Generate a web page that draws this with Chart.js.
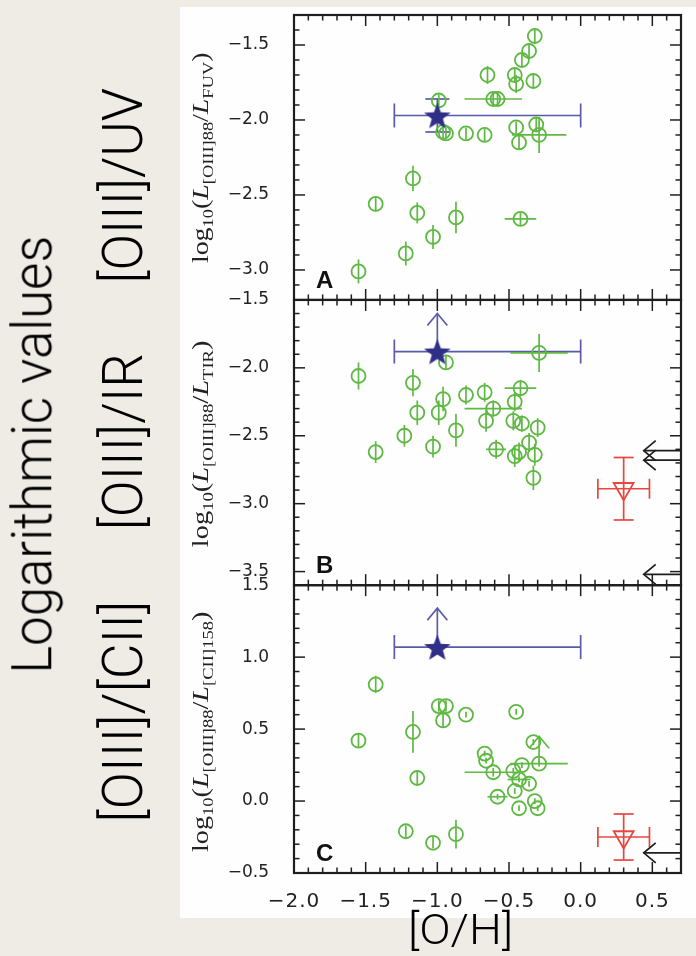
<!DOCTYPE html>
<html>
<head>
<meta charset="utf-8">
<script src="https://cdn.jsdelivr.net/npm/chart.js@4.4.1/dist/chart.umd.min.js"></script>
<style>
  html, body { margin:0; padding:0; }
  body { width:696px; height:956px; overflow:hidden; background:#eeece5; position:relative; }
  #panel { position:absolute; left:180px; top:7px; width:516px; height:911px; background:#fefefe; }
  #chart { position:absolute; left:0; top:0; }
  .rot { position:absolute; white-space:nowrap; transform-origin:50% 50%; color:#000; }
  .big { font-family:'Roboto','Liberation Sans', Arial, sans-serif; font-size:55px; line-height:1.117; font-weight:300; }
  .ytl { font-family:'Liberation Serif','Times New Roman',serif; font-size:23px; line-height:1.2; color:#222; }
  .ytl sub { font-size:0.66em; vertical-align:-0.3em; line-height:0; }
</style>
</head>
<body>
<div id="panel"></div>
<canvas id="chart" width="696" height="956"></canvas>
<div class="rot big" id="lbLog">Logarithmic values</div>
<div class="rot big" id="lbUV">[OIII]/UV</div>
<div class="rot big" id="lbIR">[OIII]/IR</div>
<div class="rot big" id="lbCII">[OIII]/[CII]</div>
<div class="rot big" id="lbOH">[O/H]</div>
<div class="rot ytl" id="tA">log<sub>10</sub>(<i>L</i><sub>[OIII]88</sub>/<i>L</i><sub>FUV</sub>)</div>
<div class="rot ytl" id="tB">log<sub>10</sub>(<i>L</i><sub>[OIII]88</sub>/<i>L</i><sub>TIR</sub>)</div>
<div class="rot ytl" id="tC">log<sub>10</sub>(<i>L</i><sub>[OIII]88</sub>/<i>L</i><sub>[CII]158</sub>)</div>
<script>
// ================= DATA =================
// shared x axis: [O/H]
const ohMin = -2.0, ohMax = 0.7;
const panelLetters = ['A', 'B', 'C'];

// Panel A : log10(L[OIII]88 / L_FUV)
const ohA    = [-0.32,-0.36,-0.41,-0.65,-0.46,-0.45,-0.33,-0.61,-0.58,-0.99,-0.96,-0.94,-0.80,-0.67,-0.45,-0.31,-0.29,-0.43,-1.17,-1.43,-1.14,-0.87,-0.42,-1.03,-1.22,-1.55];
const uvA    = [-1.44,-1.54,-1.60,-1.70,-1.70,-1.76,-1.74,-1.86,-1.86,-1.87,-2.08,-2.09,-2.09,-2.10,-2.05,-2.03,-2.10,-2.15,-2.39,-2.56,-2.62,-2.65,-2.66,-2.78,-2.89,-3.01];
const uvErrA = [0.05,0.05,0.05,0.06,0.05,0.06,0.05,0.04,0.04,0.04,0.05,0.04,0.04,0.04,0.04,0.05,0.12,0.05,0.085,0.05,0.07,0.105,0.04,0.08,0.08,0.08];
const ohErrA = [0,0,0,0,0,0,0,0.20,0,0,0,0,0,0,0,0,0.19,0,0,0,0,0,0.11,0,0,0];
const yRangeA = [-3.2, -1.3];

// Panel B : log10(L[OIII]88 / L_TIR)
const ohB    = [-1.55,-1.43,-1.17,-1.14,-1.23,-1.03,-0.99,-0.96,-0.94,-0.87,-0.80,-0.67,-0.66,-0.61,-0.59,-0.46,-0.47,-0.42,-0.41,-0.46,-0.43,-0.36,-0.30,-0.32,-0.33,-0.29];
const irB    = [-2.06,-2.62,-2.11,-2.33,-2.50,-2.58,-2.33,-2.23,-1.96,-2.46,-2.20,-2.18,-2.39,-2.30,-2.60,-2.25,-2.39,-2.15,-2.41,-2.65,-2.62,-2.55,-2.44,-2.64,-2.81,-1.89];
const irErrB = [0.10,0.08,0.10,0.09,0.08,0.08,0.09,0.09,0.05,0.12,0.07,0.07,0.08,0.06,0.07,0.07,0.07,0.06,0.06,0.08,0.07,0.07,0.07,0.08,0.09,0.14];
const ohErrB = [0,0,0,0,0,0,0,0,0,0,0,0,0,0.20,0.07,0,0,0.11,0,0,0,0,0,0,0,0.20];
const yRangeB = [-3.6, -1.5];

// Panel C : log10(L[OIII]88 / L[CII]158)
const ohC     = [-1.55,-1.43,-1.17,-1.14,-1.22,-1.03,-0.99,-0.94,-0.96,-0.87,-0.80,-0.67,-0.66,-0.61,-0.58,-0.45,-0.47,-0.46,-0.41,-0.43,-0.36,-0.33,-0.32,-0.30,-0.43,-0.29];
const ciiC    = [0.42,0.81,0.48,0.16,-0.21,-0.29,0.66,0.66,0.56,-0.23,0.60,0.33,0.28,0.20,0.03,0.62,0.21,0.07,0.25,0.15,0.12,0.41,0.00,-0.05,-0.05,0.26];
const ciiErrC = [0.05,0.06,0.145,0.05,0.04,0.04,0.04,0.04,0.05,0.10,0.02,0.02,0.02,0.03,0.02,0.02,0.02,0.02,0.02,0.02,0.02,0.02,0.02,0.02,0.02,0.02];
const ohErrC  = [0,0,0,0,0,0,0,0,0,0,0,0,0,0.20,0.07,0,0,0,0,0.08,0,0,0,0,0,0.20];
const ciiLimTipC = [null,null,null,null,null,null,null,null,null,null,null,null,null,null,null,null,null,null,null,null,null,null,null,null,null,0.45];
const yRangeC = [-0.5, 1.5];

// Star (this work): [O/H] range and ratios (B, C are lower limits)
const starOH = -1.0, starOHlo = -1.3, starOHhi = 0.0;
const starA = -1.97, starAerr = 0.11;
const starB = -1.88, starBtip = -1.60;
const starC = 1.07,  starCtip = 1.34;

// Red triangle (upper limits)
const redOH = 0.30, redOHerr = 0.18;
const redB = -2.89, redBerr = 0.23;
const redC = -0.25, redCerr = 0.16;

// Black [O/H]-limit arrows at right edge
const limB = [-2.61, -2.68, -3.52];
const limC = [-0.36];
const limTipOH = 0.44;

// ================= STYLE =================
const GREEN = '#5fb843', NAVY = '#2f2f88', BLUE = '#5a5aaa', RED = '#e8463e', BLACK = '#1e1e1e';
const fmt = v => (Math.abs(v) < 1e-9 ? 0 : v).toFixed(1).replace('-', '\u2212');

function starImage(r, inner, fill) {
  const c = document.createElement('canvas');
  const s = Math.ceil(2 * r + 2);
  c.width = s; c.height = s;
  const g = c.getContext('2d');
  g.fillStyle = fill;
  g.beginPath();
  for (let i = 0; i < 10; i++) {
    const rad = i % 2 ? r * inner : r;
    const a = -Math.PI / 2 + i * Math.PI / 5;
    g.lineTo(s / 2 + rad * Math.cos(a), s / 2 + 1.5 + rad * Math.sin(a));
  }
  g.closePath(); g.fill();
  return c;
}
const starImg = starImage(14, 0.42, NAVY);

const pts = (xs, ys) => xs.map((x, i) => ({ x, y: ys[i] }));

function greenSet(id, xs, ys, yErr, xErr, tips) {
  return { type: 'scatter', yAxisID: id, data: pts(xs, ys), order: 3,
    pointStyle: 'circle', pointRadius: 7, pointHoverRadius: 7, pointBorderWidth: 1.8,
    pointBorderColor: GREEN, pointBackgroundColor: 'rgba(0,0,0,0)',
    errColor: GREEN, yErr, xErr, yTip: tips || null, cap: 0 };
}
function starSet(id, y, yErr, tip) {
  return { type: 'scatter', yAxisID: id, data: [{ x: starOH, y }], order: 0,
    pointStyle: starImg, pointRadius: 14, pointHoverRadius: 14,
    errColor: BLUE, xLo: [starOHlo], xHi: [starOHhi], yErr: [yErr || 0], yTip: [tip === undefined ? null : tip], cap: 12 };
}
function redSet(id, y, yErr) {
  return { type: 'scatter', yAxisID: id, data: [{ x: redOH, y }], order: 1,
    pointStyle: 'triangle', pointRotation: 180, pointRadius: 11.5, pointHoverRadius: 11.5, pointBorderWidth: 1.8,
    pointBorderColor: RED, pointBackgroundColor: 'rgba(0,0,0,0)',
    errColor: RED, xErr: [redOHerr], yErr: [yErr], cap: 10 };
}
function limSet(id, ys) {
  return { type: 'scatter', yAxisID: id, data: ys.map(y => ({ x: limTipOH, y })), order: 2,
    pointRadius: 0, pointHoverRadius: 0, errColor: BLACK, leftArrow: true };
}

const datasets = [
  starSet('yA', starA, starAerr),
  starSet('yB', starB, 0, starBtip),
  starSet('yC', starC, 0, starCtip),
  redSet('yB', redB, redBerr),
  redSet('yC', redC, redCerr),
  limSet('yB', limB),
  limSet('yC', limC),
  greenSet('yA', ohA, uvA, uvErrA, ohErrA),
  greenSet('yB', ohB, irB, irErrB, ohErrB),
  greenSet('yC', ohC, ciiC, ciiErrC, ohErrC, ciiLimTipC)
];

// ================= PLUGINS =================
function seg(ctx, x1, y1, x2, y2) { ctx.beginPath(); ctx.moveTo(x1, y1); ctx.lineTo(x2, y2); ctx.stroke(); }

const errorBars = {
  id: 'errorBars',
  beforeDatasetsDraw(chart) {
    const ctx = chart.ctx, xs = chart.scales.x, area = chart.chartArea;
    chart.data.datasets.forEach(ds => {
      const ys = chart.scales[ds.yAxisID];
      ctx.save();
      ctx.strokeStyle = ds.errColor; ctx.lineWidth = 1.7; ctx.lineCap = 'butt';
      ds.data.forEach((p, i) => {
        const px = xs.getPixelForValue(p.x), py = ys.getPixelForValue(p.y);
        const cap = ds.cap || 0;
        if (ds.leftArrow) {
          seg(ctx, px, py, area.right, py);
          ctx.beginPath(); ctx.moveTo(px + 12, py - 10); ctx.lineTo(px, py); ctx.lineTo(px + 12, py + 10); ctx.stroke();
          return;
        }
        let xl = null, xh = null;
        if (ds.xLo) { xl = ds.xLo[i]; xh = ds.xHi[i]; }
        else if (ds.xErr && ds.xErr[i]) { xl = p.x - ds.xErr[i]; xh = p.x + ds.xErr[i]; }
        if (xl !== null) {
          const a = xs.getPixelForValue(xl), b = xs.getPixelForValue(xh);
          seg(ctx, a, py, b, py);
          if (cap) { seg(ctx, a, py - cap, a, py + cap); seg(ctx, b, py - cap, b, py + cap); }
        }
        if (ds.yErr && ds.yErr[i]) {
          const a = ys.getPixelForValue(p.y - ds.yErr[i]), b = ys.getPixelForValue(p.y + ds.yErr[i]);
          seg(ctx, px, a, px, b);
          if (cap) { seg(ctx, px - cap, a, px + cap, a); seg(ctx, px - cap, b, px + cap, b); }
        }
        if (ds.yTip && ds.yTip[i] !== null && ds.yTip[i] !== undefined) {
          const t = ys.getPixelForValue(ds.yTip[i]);
          seg(ctx, px, py, px, t);
          ctx.beginPath(); ctx.moveTo(px - 10, t + 12); ctx.lineTo(px, t); ctx.lineTo(px + 10, t + 12); ctx.stroke();
        }
      });
      ctx.restore();
    });
  }
};

const frames = {
  id: 'frames',
  beforeDraw(chart) {
    const xs = chart.scales.x;
    if (xs && !xs._lsPatched) {
      const orig = xs.drawLabels;
      xs.drawLabels = function (a) { const c = this.ctx; c.save(); c.letterSpacing = '1px'; orig.call(this, a); c.restore(); };
      xs._lsPatched = true;
    }
  },
  afterDatasetsDraw(chart) {
    const ctx = chart.ctx, xs = chart.scales.x, area = chart.chartArea;
    ['yA', 'yB', 'yC'].forEach((id, k) => {
      const ys = chart.scales[id];
      const top = ys.top, bot = ys.bottom, L = area.left, R = area.right;
      ctx.save();
      ctx.strokeStyle = BLACK; ctx.lineWidth = 1.5;
      for (let t = Math.ceil(xs.min * 10 - 1e-6); t <= Math.floor(xs.max * 10 + 1e-6); t++) {
        const len = t % 5 === 0 ? 11 : 5.5;
        const px = xs.getPixelForValue(t / 10);
        seg(ctx, px, bot, px, bot - len);
        seg(ctx, px, top, px, top + len);
      }
      for (let t = Math.ceil(ys.min * 10 - 1e-6); t <= Math.floor(ys.max * 10 + 1e-6); t++) {
        const len = t % 5 === 0 ? 11 : 5.5;
        const py = ys.getPixelForValue(t / 10);
        seg(ctx, L, py, L + len, py);
        seg(ctx, R, py, R - len, py);
      }
      ctx.lineWidth = 2.2;
      ctx.strokeRect(L, top, R - L, bot - top);
      ctx.fillStyle = '#111';
      ctx.font = 'bold 24px "Liberation Sans", Arial, sans-serif';
      ctx.textBaseline = 'alphabetic'; ctx.textAlign = 'left';
      ctx.fillText(panelLetters[k], L + 22, bot - 12);
      ctx.restore();
    });
  }
};

// ================= SCALES =================
function yScale(range, weight, sw) {
  return {
    type: 'linear', position: 'left', stack: 'panels', stackWeight: sw, weight,
    min: range[0], max: range[1],
    grid: { display: false, drawTicks: false }, border: { display: false },
    ticks: { stepSize: 0.5, includeBounds: false, padding: 25, color: '#222',
      font: { family: 'DejaVu Sans', size: 17 }, callback: v => fmt(v) },
    afterFit(s) { s.width = 294; s.paddingTop = 0; s.paddingBottom = 0; }
  };
}

new Chart(document.getElementById('chart'), {
  type: 'scatter',
  data: { datasets },
  options: {
    responsive: false, animation: false, devicePixelRatio: 1,
    layout: { padding: { top: 12, right: 15, bottom: 0, left: 0 } },
    plugins: { legend: { display: false }, tooltip: { enabled: false } },
    scales: {
      x: {
        type: 'linear', position: 'bottom', min: ohMin, max: ohMax,
        grid: { display: false, drawTicks: false }, border: { display: false },
        ticks: { stepSize: 0.5, includeBounds: false, padding: 17, color: '#222',
          font: { family: 'DejaVu Sans', size: 20 }, callback: v => fmt(v) },
        afterFit(s) { s.height = 83; s.paddingLeft = 0; s.paddingRight = 0; }
      },
      yC: yScale(yRangeC, 1, 288.3),
      yB: yScale(yRangeB, 2, 285.7),
      yA: yScale(yRangeA, 3, 285.4)
    }
  },
  plugins: [errorBars, frames]
});

// ================= ROTATED LABELS =================
function placeRot(id, cx, cy, len, rotate) {
  const el = document.getElementById(id);
  const w = el.offsetWidth, h = el.offsetHeight;
  const s = len / w;
  el.style.left = (cx - w / 2) + 'px';
  el.style.top = (cy - h / 2) + 'px';
  el.style.transform = (rotate ? 'rotate(-90deg) ' : '') + 'scaleX(' + s + ')';
}
const FS = 55;
placeRot('lbLog', 52 - 0.3465 * FS, 454, 438, true);
placeRot('lbUV', 143 - 0.3465 * FS, 185, 196, true);
placeRot('lbIR', 143 - 0.3465 * FS, 441.5, 177, true);
placeRot('lbCII', 143 - 0.3465 * FS, 711, 222, true);
document.getElementById('lbOH').style.fontSize = '42px';
placeRot('lbOH', 460, 945 - 0.3465 * 42, 105, false);
placeRot('tA', 201, 157.5, 211, true);
placeRot('tB', 201, 443.5, 207, true);
placeRot('tC', 201, 732, 240, true);
</script>
</body>
</html>
